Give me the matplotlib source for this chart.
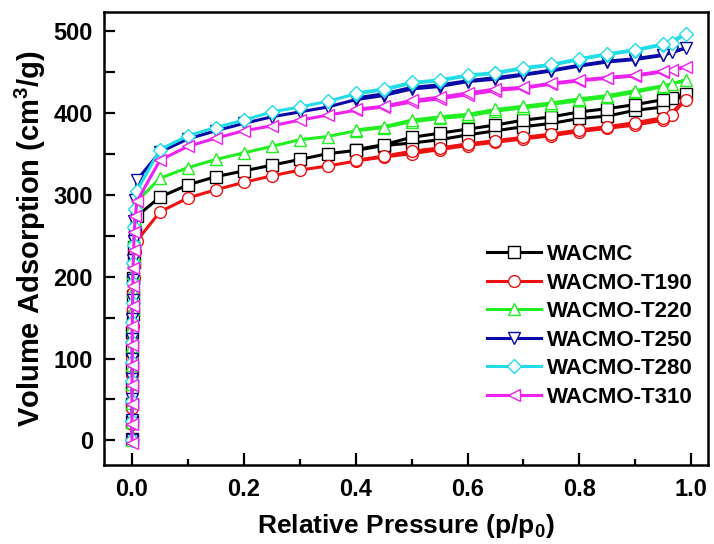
import matplotlib
matplotlib.use("Agg")
import matplotlib.pyplot as plt
from matplotlib.ticker import MultipleLocator

plt.rcParams['font.family'] = ['Liberation Sans', 'DejaVu Sans']
plt.rcParams['font.weight'] = 'bold'
plt.rcParams['mathtext.fontset'] = 'custom'
plt.rcParams['mathtext.rm'] = 'Liberation Sans:bold'
plt.rcParams['mathtext.it'] = 'Liberation Sans:bold'
plt.rcParams['mathtext.default'] = 'rm'

names = ["WACMC", "WACMO-T190", "WACMO-T220", "WACMO-T250", "WACMO-T280", "WACMO-T310"]
colors = ["#000000", "#ee1111", "#22ee22", "#0a0aa8", "#22dde8", "#ee22ee"]
markers = ["s", "o", "^", "v", "D", "<"]

# low-pressure region (near p/p0 = 0)
low_x = [0.0, 0.0, 0.0001, 0.0002, 0.0003, 0.0005, 0.0007, 0.001, 0.0015, 0.002, 0.003, 0.004, 0.006, 0.009]
low_wacmc = [2, 22, 44, 66, 88, 110, 132, 154, 176, 198, 218, 236, 255, 274]
low_t190 = [2, 20, 40, 60, 80, 100, 120, 140, 160, 180, 198, 214, 230, 244]
low_t220 = [1, 23, 46, 69, 92, 115, 138, 160, 182, 204, 226, 248, 270, 292]
low_t250 = [0, 25, 50, 75, 100, 124, 148, 172, 196, 220, 244, 268, 294, 318]
low_t280 = [1, 24, 48, 72, 96, 120, 144, 168, 192, 216, 238, 260, 282, 305]
low_t310 = [-3, 20, 44, 68, 92, 116, 140, 164, 188, 210, 232, 254, 274, 292]

# adsorption branch
ads_x = [0.05, 0.10, 0.15, 0.20, 0.25, 0.30, 0.35, 0.40, 0.45, 0.50, 0.55, 0.60,
         0.65, 0.70, 0.75, 0.80, 0.85, 0.90, 0.95, 0.99]
ads_wacmc = [297, 312, 322, 329, 336, 343, 350, 354, 360, 363, 367, 373, 378, 383, 387, 393, 396, 403, 407, 423]
ads_t190 = [279, 296, 306, 315, 323, 330, 335, 341, 346, 350, 355, 360, 364, 368, 372, 377, 381, 385, 391, 416]
ads_t220 = [320, 333, 343, 351, 359, 367, 371, 378, 382, 389, 393, 396, 402, 406, 410, 415, 419, 425, 432, 440]
ads_t250 = [352, 368, 378, 387, 395, 401, 407, 416, 421, 429, 432, 438, 441, 446, 451, 457, 462, 465, 470, 479]
ads_t280 = [355, 372, 382, 391, 401, 407, 414, 423, 428, 436, 439, 445, 448, 454, 458, 465, 471, 476, 483, 496]
ads_t310 = [342, 359, 369, 378, 384, 391, 397, 403, 407, 413, 417, 422, 427, 430, 435, 439, 442, 445, 450, 456]

# desorption branch
des_x = [0.965, 0.95, 0.90, 0.85, 0.80, 0.75, 0.70, 0.65, 0.60, 0.55, 0.50, 0.45, 0.40]
des_wacmc = [418, 416, 410, 405, 401, 395, 391, 385, 380, 375, 370, 361, 355]
des_t190 = [397, 394, 388, 383, 379, 374, 370, 366, 362, 357, 353, 347, 342]
des_t220 = [435, 433, 427, 421, 417, 412, 408, 404, 398, 395, 391, 383, 379]
des_t250 = [474, 471, 466, 463, 458, 452, 447, 443, 439, 434, 431, 423, 418]
des_t280 = [485, 484, 477, 472, 466, 459, 455, 449, 446, 440, 437, 429, 424]
des_t310 = [452, 451, 446, 443, 440, 436, 431, 429, 424, 419, 415, 408, 404]

lows = [low_wacmc, low_t190, low_t220, low_t250, low_t280, low_t310]
adss = [ads_wacmc, ads_t190, ads_t220, ads_t250, ads_t280, ads_t310]
dess = [des_wacmc, des_t190, des_t220, des_t250, des_t280, des_t310]

fig = plt.figure(figsize=(7.14, 5.44), dpi=100)
ax = fig.add_axes([104/714, 1-465/544, (708-104)/714, (465-12)/544])

for name, c, m, lo, ad, de in zip(names, colors, markers, lows, adss, dess):
    x = list(low_x) + list(ads_x) + list(des_x)
    y = list(lo) + list(ad) + list(de)
    ms = 7.5 if m == "D" else 8.5
    ax.plot(x, y, color=c, lw=2.2, marker=m, ms=ms, mfc="white", mec=c, mew=1.0, label=name)

ax.set_xlim(-0.05, 1.03)
ax.set_ylim(-30, 523)
ax.xaxis.set_major_locator(MultipleLocator(0.2))
ax.xaxis.set_minor_locator(MultipleLocator(0.1))
ax.yaxis.set_major_locator(MultipleLocator(100))
ax.yaxis.set_minor_locator(MultipleLocator(50))
ax.xaxis.set_major_formatter(matplotlib.ticker.FormatStrFormatter('%.1f'))

ax.tick_params(axis='both', which='both', direction='in', top=False, right=False, width=1.6)
ax.tick_params(axis='x', which='major', length=9, pad=9, labelsize=17)
ax.tick_params(axis='x', which='minor', length=4.5)
ax.tick_params(axis='y', which='major', length=8, pad=8, labelsize=17)
ax.tick_params(axis='y', which='minor', length=8)
for lab in ax.get_xticklabels() + ax.get_yticklabels():
    lab.set_fontweight('bold')
for s in ax.spines.values():
    s.set_linewidth(1.8)

ax.set_xlabel(r'Relative Pressure (p/p$_{0}$)', fontsize=19, fontweight='bold', labelpad=8)
ax.set_ylabel(r'Volume Adsorption (cm$^{3}$/g)', fontsize=21, fontweight='bold', labelpad=4)

leg = ax.legend(loc='upper left', bbox_to_anchor=(487/714, 1-244/544), bbox_transform=fig.transFigure,
                frameon=False, fontsize=16, handlelength=2.45, handletextpad=0.27,
                labelspacing=0.34, borderpad=0, borderaxespad=0)
for t in leg.get_texts():
    t.set_fontweight('bold')

fig.savefig("out.png", dpi=100)
